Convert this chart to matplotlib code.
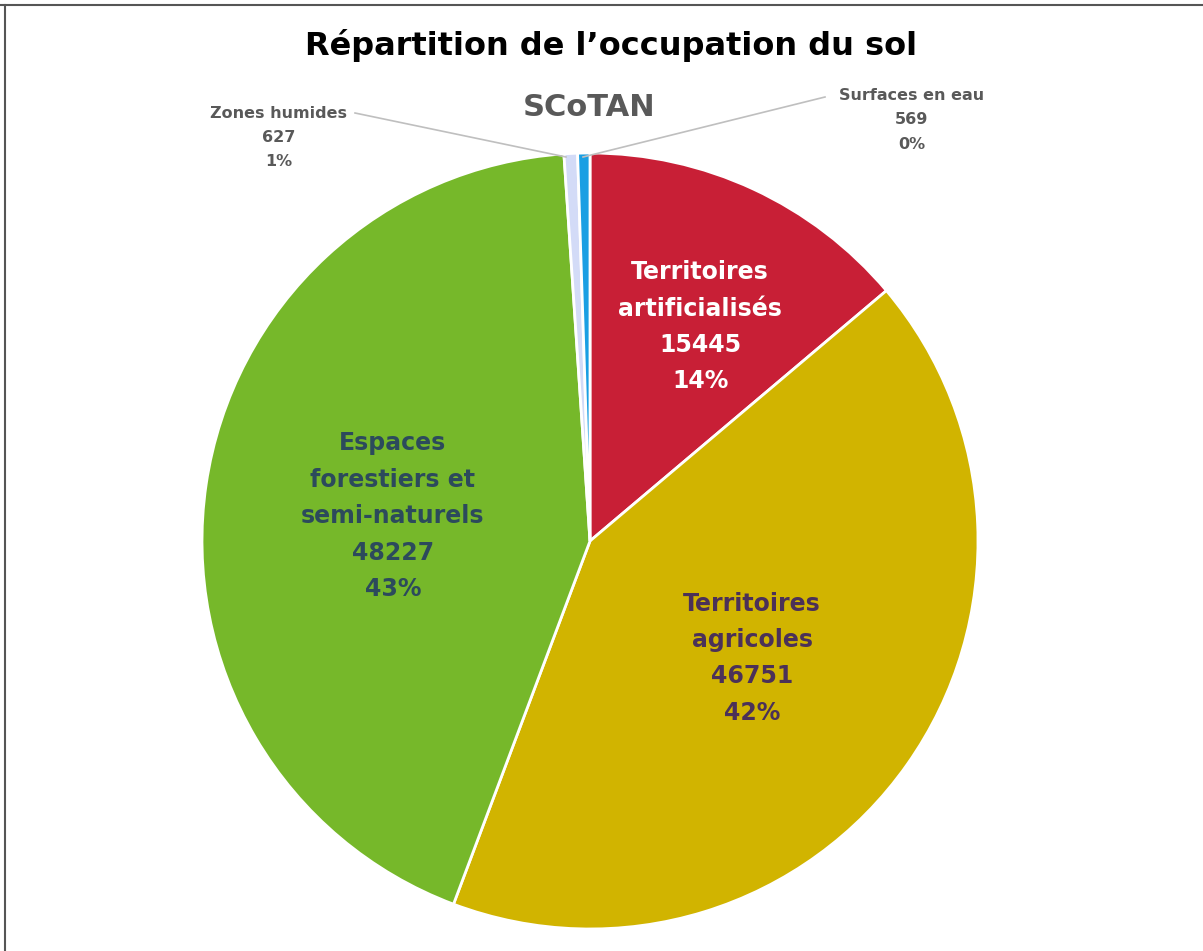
import matplotlib
matplotlib.use("Agg")
import matplotlib.pyplot as plt
import numpy as np
from matplotlib.lines import Line2D

# Land use data (ha)
categories = ["Territoires\nartificialisés", "Territoires\nagricoles",
              "Espaces\nforestiers et\nsemi-naturels", "Zones humides", "Surfaces en eau"]
values = [15445, 46751, 48227, 627, 569]
percents = ["14%", "42%", "43%", "1%", "0%"]
colors = ["#c81f36", "#d1b400", "#76b82a", "#d3dbf7", "#1a9fe3"]
text_colors = ["white", "#4b3158", "#2c4a5c", "#595959", "#595959"]

W, H = 1203, 951
fig = plt.figure(figsize=(W / 100, H / 100), dpi=100)

# pie axes placed by pixel geometry
cx, cy, r = 590, 541, 388
ax = fig.add_axes([(cx - r) / W, (H - cy - r) / H, 2 * r / W, 2 * r / H])
wedges, _ = ax.pie(values, colors=colors, startangle=90, counterclock=False,
                   radius=1.0, wedgeprops=dict(edgecolor="white", linewidth=2))
ax.set_xlim(-1, 1)
ax.set_ylim(-1, 1)
ax.set_aspect("equal")
ax.axis("off")

# labels inside big wedges (positions in data coords)
inner_pos = [(0.284, 0.552), (0.418, -0.302), (-0.508, 0.064)]
for i, (x, y) in enumerate(inner_pos):
    ax.text(x, y, categories[i] + "\n" + str(values[i]) + "\n" + percents[i],
            ha="center", va="center", fontsize=17, fontweight="bold",
            color=text_colors[i], linespacing=1.65)

# outside labels for the small wedges
def to_fig(px, py):
    return px / W, 1 - py / H

# Zones humides
x, y = to_fig(279, 137)
fig.text(x, y, categories[3] + "\n" + str(values[3]) + "\n" + percents[3],
         ha="center", va="center", fontsize=11.5, fontweight="bold",
         color="#595959", linespacing=1.75)
# Surfaces en eau
x, y = to_fig(912, 120)
fig.text(x, y, categories[4] + "\n" + str(values[4]) + "\n" + percents[4],
         ha="center", va="center", fontsize=11.5, fontweight="bold",
         color="#595959", linespacing=1.8)

# leader lines
for (x0, y0), (x1, y1) in [((355, 113), (566, 157)), ((825, 97), (583, 157))]:
    a, b = to_fig(x0, y0)
    c, d = to_fig(x1, y1)
    fig.add_artist(Line2D([a, c], [b, d], color="#bfbfbf", linewidth=1.2))

# titles
fig.text(611 / W, 1 - 45 / H, "Répartition de l\u2019occupation du sol",
         ha="center", va="center", fontsize=23, fontweight="bold", color="black")
fig.text(589 / W, 1 - 107 / H, "SCoTAN", ha="center", va="center",
         fontsize=22, fontweight="bold", color="#595959")

# frame lines (top and left)
fig.add_artist(Line2D([0, 1], [1 - 5 / H, 1 - 5 / H], color="#555555", linewidth=1.5))
fig.add_artist(Line2D([5 / W, 5 / W], [0, 1 - 5 / H], color="#555555", linewidth=1.5))

fig.savefig("out.png", dpi=100)
